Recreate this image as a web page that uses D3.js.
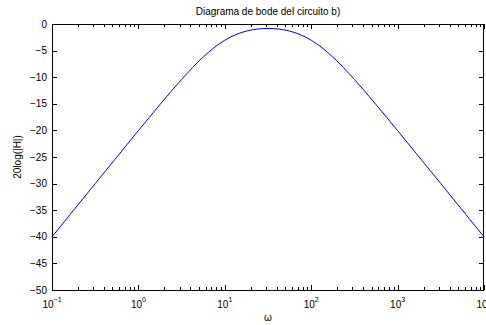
<!DOCTYPE html>
<html>
<head>
<meta charset="utf-8">
<script src="https://cdn.jsdelivr.net/npm/d3@7"></script>
<style>
  body { margin: 0; background: #fff; }
  svg { display: block; font-family: "Liberation Sans", Arial, sans-serif; }
</style>
</head>
<body>
<div id="chart"></div>
<script>
// values
const omega = [0.1, 0.1778, 0.3162, 0.5623, 1, 1.778, 3.162, 5.623, 7.499, 10, 13.34, 17.78,
  23.71, 31.62, 42.17, 56.23, 74.99, 100, 133.4, 177.8, 316.2, 562.3, 1000, 1778, 3162, 5623, 10000];
const gainDb = [-40.0, -35.0, -30.0, -25.01, -20.04, -15.14, -10.42, -6.21, -4.46, -3.05, -2.01, -1.33,
  -0.95, -0.83, -0.95, -1.33, -2.01, -3.05, -4.46, -6.21, -10.42, -15.14, -20.04, -25.01, -30.0, -35.0, -40.0];
const xTicks = [-1, 0, 1, 2, 3, 4];
const yTicks = [0, -5, -10, -15, -20, -25, -30, -35, -40, -45, -50];
const title = 'Diagrama de bode del circuito b)';
const xLabel = 'ω';
const yLabel = '20log(|H|)';

const width = 486, height = 325;
const margin = { left: 52, right: 2, top: 24, bottom: 35 };
const w = width - margin.left - margin.right;
const h = height - margin.top - margin.bottom;

const svg = d3.select('#chart').append('svg')
  .attr('width', width)
  .attr('height', height);

const x = d3.scaleLog().domain([0.1, 10000]).range([0, w]);
const y = d3.scaleLinear().domain([-50, 0]).range([h, 0]);

const g = svg.append('g').attr('transform', `translate(${margin.left},${margin.top})`);

// minor ticks for log axis
const minor = [];
for (let e = -1; e < 4; e++) {
  for (let k = 2; k <= 9; k++) minor.push(k * Math.pow(10, e));
}

const ticks = g.append('g').attr('stroke', '#000').attr('stroke-width', 1);
minor.forEach(v => {
  const px = Math.round(x(v)) + 0.5;
  ticks.append('line').attr('x1', px).attr('x2', px).attr('y1', h).attr('y2', h - 3);
  ticks.append('line').attr('x1', px).attr('x2', px).attr('y1', 0).attr('y2', 3);
});
xTicks.forEach(e => {
  const px = Math.round(x(Math.pow(10, e))) + 0.5;
  ticks.append('line').attr('x1', px).attr('x2', px).attr('y1', h).attr('y2', h - 5);
  ticks.append('line').attr('x1', px).attr('x2', px).attr('y1', 0).attr('y2', 5);
});
yTicks.forEach(v => {
  const py = Math.round(y(v)) + 0.5;
  ticks.append('line').attr('x1', 0).attr('x2', 5).attr('y1', py).attr('y2', py);
  ticks.append('line').attr('x1', w).attr('x2', w - 5).attr('y1', py).attr('y2', py);
});

// curve
const line = d3.line()
  .curve(d3.curveMonotoneX)
  .x((d, i) => x(omega[i]))
  .y(d => y(d));
g.append('path')
  .datum(gainDb)
  .attr('fill', 'none')
  .attr('stroke', '#0000ff')
  .attr('stroke-width', 1)
  .attr('d', line);

// box
g.append('rect')
  .attr('x', 0.5).attr('y', 0.5)
  .attr('width', w - 1).attr('height', h)
  .attr('fill', 'none')
  .attr('stroke', '#000')
  .attr('stroke-width', 1);

// y labels
g.append('g').selectAll('text')
  .data(yTicks)
  .join('text')
  .attr('x', -5)
  .attr('y', d => y(d) + 3.5)
  .attr('text-anchor', 'end')
  .attr('font-size', 10)
  .text(d => d === 0 ? '0' : '\u2212' + Math.abs(d));

// x labels: 10 with superscript exponent, whole label centred on tick
const xl = g.append('g').selectAll('text')
  .data(xTicks)
  .join('text')
  .attr('x', d => x(Math.pow(10, d)))
  .attr('y', h + 18)
  .attr('text-anchor', 'middle')
  .attr('font-size', 10);
xl.append('tspan').text('10');
xl.append('tspan')
  .attr('dy', -6)
  .attr('font-size', 7)
  .text(d => d < 0 ? '\u2212' + Math.abs(d) : d);

// title and axis labels
svg.append('text')
  .attr('x', margin.left + w / 2)
  .attr('y', 15)
  .attr('text-anchor', 'middle')
  .attr('font-size', 10)
  .text(title);
svg.append('text')
  .attr('x', margin.left + w / 2)
  .attr('y', 321)
  .attr('text-anchor', 'middle')
  .attr('font-size', 10)
  .text(xLabel);
svg.append('text')
  .attr('transform', `translate(21,${margin.top + h / 2}) rotate(-90)`)
  .attr('text-anchor', 'middle')
  .attr('font-size', 10)
  .text(yLabel);
</script>
</body>
</html>
